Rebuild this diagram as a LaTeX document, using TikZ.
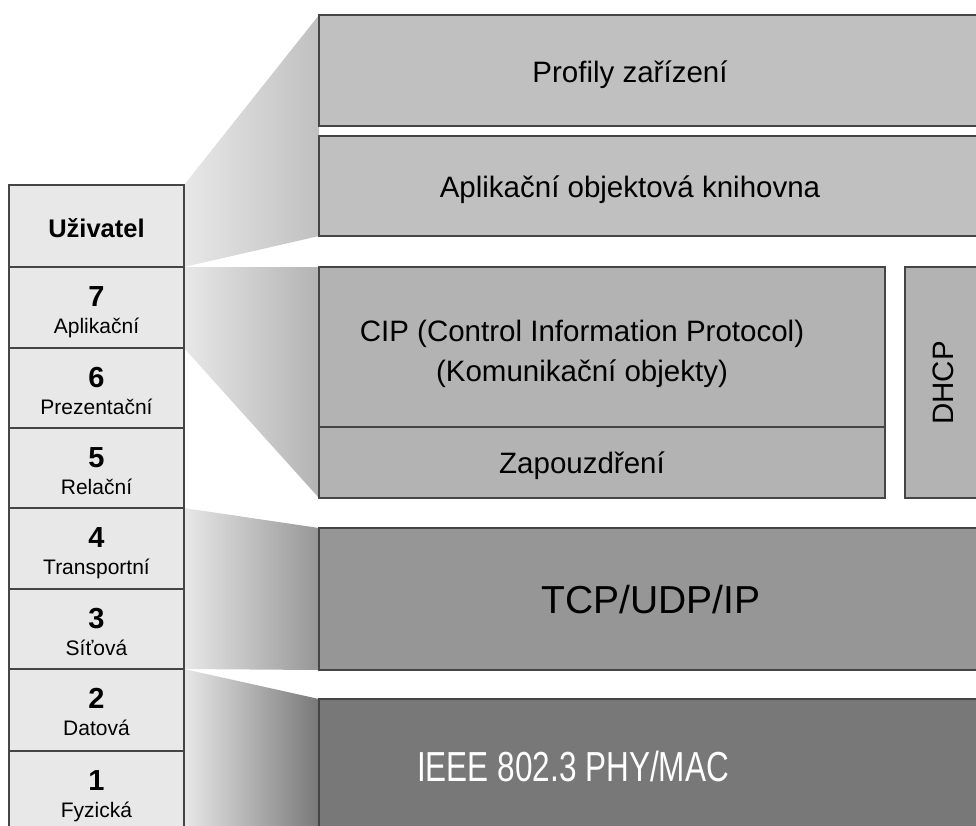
\documentclass[tikz,border=0pt]{standalone}
\usepackage{fontspec}
\setmainfont{Liberation Sans}
\usepackage{graphicx}
\definecolor{edge}{HTML}{454545}
\definecolor{osi}{HTML}{E8E8E8}
\definecolor{appfill}{HTML}{C0C0C0}
\definecolor{cipfill}{HTML}{B3B3B3}
\definecolor{netfill}{HTML}{969696}
\definecolor{phyfill}{HTML}{787878}
\begin{document}
\begin{tikzpicture}[x=1pt,y=-1pt,
  box/.style={draw=edge,line width=1.6pt},
  bigtext/.style={font=\fontsize{29.5}{40}\selectfont,inner sep=0pt,anchor=base},
  layername/.style={font=\bfseries\fontsize{25.5}{30}\selectfont,inner sep=0pt,anchor=base},
  layernum/.style={font=\bfseries\fontsize{29}{34}\selectfont,inner sep=0pt,anchor=base},
  layerlabel/.style={font=\fontsize{21}{25}\selectfont,inner sep=0pt,anchor=base}]
\useasboundingbox (0,0) rectangle (976,825);
\clip (0,0) rectangle (976,825);

% shaded wedges joining the OSI layers to the protocol stack
\shade[left color=osi,right color=appfill] (184,185) -- (319,15) -- (319,236) -- (184,267) -- cycle;
\shade[left color=osi,right color=cipfill] (184,267) -- (319,267) -- (319,498) -- (184,348) -- cycle;
\shade[left color=osi,right color=netfill] (184,508) -- (319,528) -- (319,670) -- (184,669) -- cycle;
\shade[left color=osi,right color=phyfill] (184,669) -- (319,699) -- (319,850) -- (184,850) -- cycle;

% protocol stack
\draw[box,fill=appfill] (319,15) rectangle (995,126);
\draw[box,fill=appfill] (319,136) rectangle (995,236);
\draw[box,fill=cipfill] (319,267) rectangle (885,498);
\draw[box] (319,427) -- (885,427);
\draw[box,fill=cipfill] (905,267) rectangle (995,498);
\draw[box,fill=netfill] (319,528) rectangle (995,670);
\draw[box,fill=phyfill] (319,699) rectangle (995,850);

\node[bigtext] (profily) at (630,82) {Profily zařízení};
\node[bigtext] (knihovna) at (630,197) {Aplikační objektová knihovna};
\node[bigtext,align=center] (cip) at (582,381) {CIP (Control Information Protocol)\\(Komunikační objekty)};
\node[bigtext] (zapouzdreni) at (582,473) {Zapouzdření};
\node[bigtext,anchor=center,rotate=90] (dhcp) at (943,383) {DHCP};
\node[bigtext,font=\fontsize{39}{46}\selectfont] (tcp) at (651,613) {TCP/UDP/IP};
\node[bigtext,font=\fontsize{42}{50}\selectfont,text=white] (ieee) at (573,781) {\scalebox{0.75}[1]{IEEE 802.3 PHY/MAC}};

% OSI reference model column
\draw[box,fill=osi] (9,185) rectangle (184,850);
\foreach \y in {267,348,428,508,589,669,751}
  \draw[box] (9,\y) -- (184,\y);

\node[layername] (uzivatel) at (96.5,237) {Uživatel};
\foreach \top/\num/\name [count=\i] in
  {267/7/Aplikační,348/6/Prezentační,428/5/Relační,508/4/Transportní,
   589/3/Síťová,669/2/Datová,751/1/Fyzická} {
  \node[layernum] (num\i) at (96.5,\top+39) {\num};
  \node[layerlabel] (name\i) at (96.5,\top+66) {\name};
}
\end{tikzpicture}
\end{document}
